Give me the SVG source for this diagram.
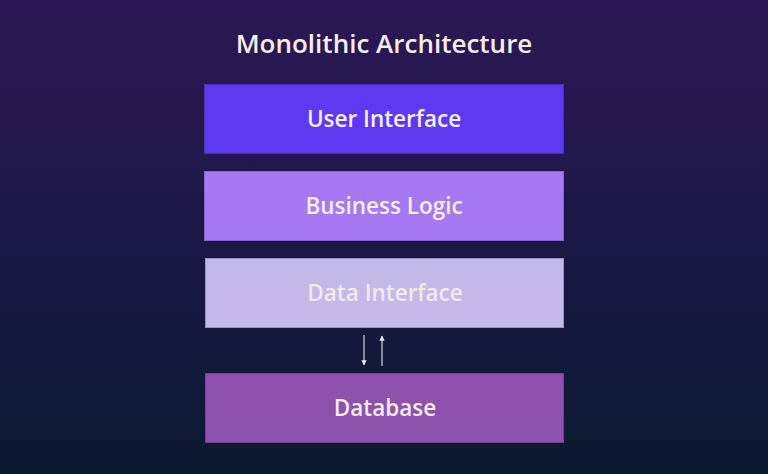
<svg xmlns="http://www.w3.org/2000/svg" width="768" height="474" viewBox="0 0 768 474">
<defs>
<linearGradient id="bg" x1="0" y1="0" x2="0" y2="1">
<stop offset="0" stop-color="#2c1856"/>
<stop offset="0.5" stop-color="#1b1845"/>
<stop offset="1" stop-color="#0b1930"/>
</linearGradient>
<marker id="ah" viewBox="0 0 10 10" refX="9" refY="5" markerWidth="4.5" markerHeight="4.5" orient="auto-start-reverse">
<path d="M0,0 L10,5 L0,10 z" fill="#ece6ee"/>
</marker>
</defs>
<style>
text{font-family:"Open Sans",Lato,"Liberation Sans",sans-serif;fill:#f6ece8;text-anchor:middle}
.t{font-size:26px;font-weight:600}
.l{font-size:22.5px;font-weight:600}
.box{stroke-width:1}
.c{stroke:#d8d2e0;stroke-width:1.2;fill:none}
</style>
<rect width="768" height="474" fill="url(#bg)"/>
<text class="t" x="384" y="53">Monolithic Architecture</text>
<g id="user-interface">
<rect class="box" x="204.5" y="84.5" width="359" height="69" fill="#5d3af2" stroke="#4a30c0"/>
<text class="l" x="384" y="127">User Interface</text>
</g>
<g id="business-logic">
<rect class="box" x="204.5" y="171.5" width="359" height="69" fill="#a678f4" stroke="#8a62d0"/>
<text class="l" x="384" y="214">Business Logic</text>
</g>
<g id="data-interface">
<rect class="box" x="205.5" y="258.5" width="358" height="69" fill="#c3b9e8" stroke="#9c90c8"/>
<text class="l" x="385" y="301" style="fill:#f2e8ec">Data Interface</text>
</g>
<g id="database">
<rect class="box" x="205.5" y="373.5" width="358" height="69" fill="#8e52ae" stroke="#743f94"/>
<text class="l" x="385" y="416">Database</text>
</g>
<g id="connectors">
<line class="c" x1="364" y1="335" x2="364" y2="365" marker-end="url(#ah)"/>
<line class="c" x1="382" y1="366" x2="382" y2="336" marker-end="url(#ah)"/>
</g>
</svg>
